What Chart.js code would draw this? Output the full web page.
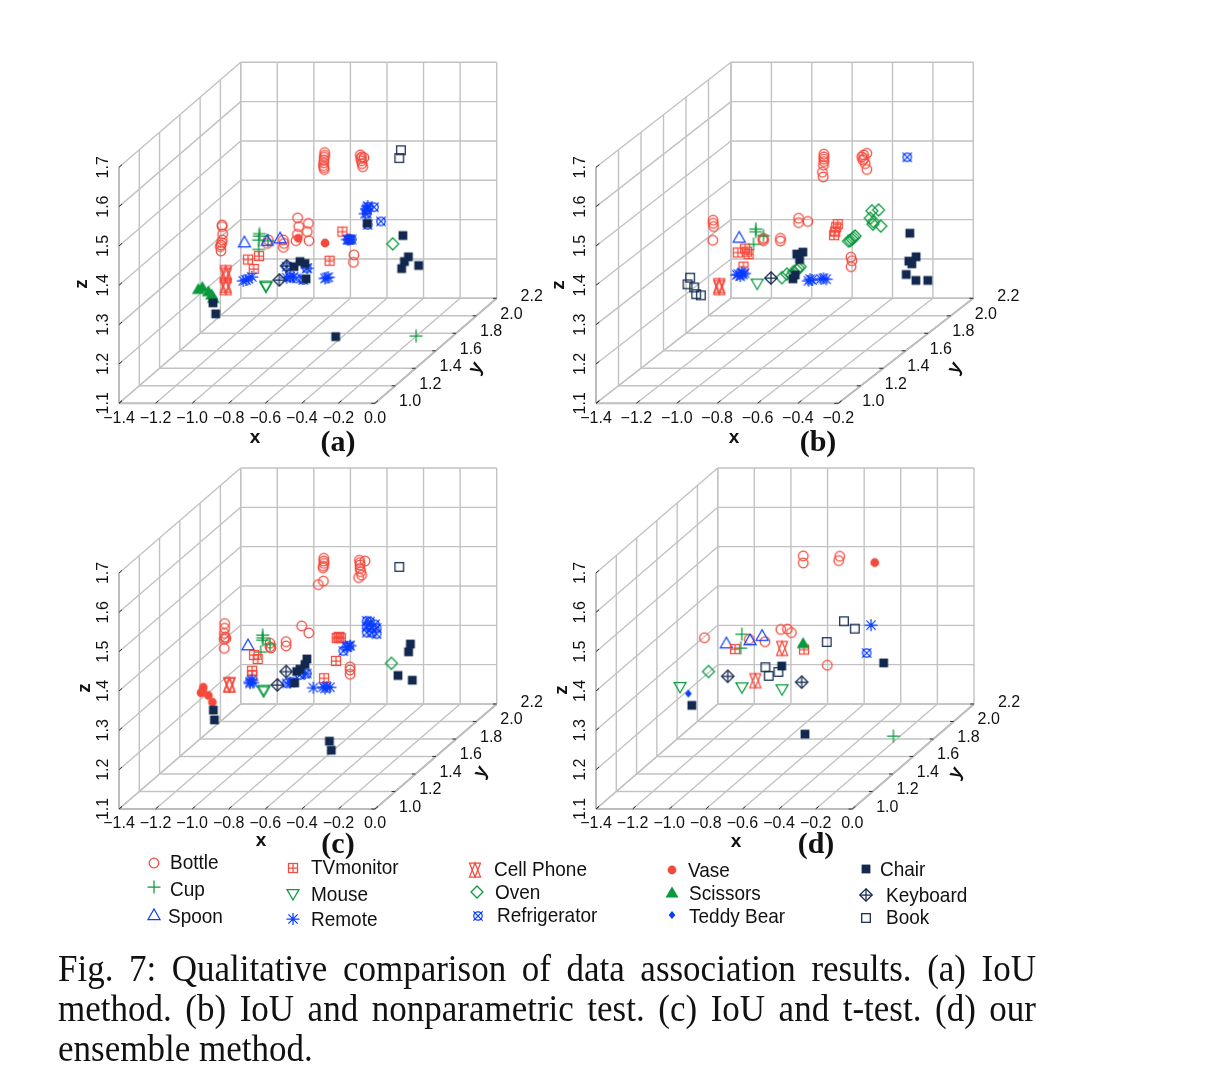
<!DOCTYPE html>
<html>
<head>
<meta charset="utf-8">
<title>Fig. 7</title>
<script src="https://cdn.jsdelivr.net/npm/chart.js@4/dist/chart.umd.min.js"></script>
<style>
  html, body { margin: 0; padding: 0; background: #fff; }
  body { position: relative; width: 1205px; height: 1070px; overflow: hidden; }
  canvas.panel { position: absolute; filter: blur(0.35px); }
  .letter { position: absolute; font: bold 30px "Liberation Serif", serif; color: #111; transform: translate(-50%, -50%); }
  .key { position: absolute; font: 19px "Liberation Sans", sans-serif; color: #111; transform: translateY(-50%) scaleY(1.1); white-space: nowrap; filter: blur(0.3px); }
  .keyMark { position: absolute; transform: translate(-50%, -50%); filter: blur(0.35px); }
  .cap { position: absolute; left: 58px; width: 978px; font: 35px/40px "Liberation Serif", serif; color: #111; text-align: justify; text-align-last: justify; white-space: nowrap; transform: scaleY(1.08); filter: blur(0.3px); }
</style>
</head>
<body>
<script>
// every mark is [x, z]; one view cannot give depth, so y is an assumed constant below
const assumedY = 1.6;

const xTicksLong = [-1.4, -1.2, -1.0, -0.8, -0.6, -0.4, -0.2, 0.0];
const xTicksShort = [-1.4, -1.2, -1.0, -0.8, -0.6, -0.4, -0.2];
const yTicks = [1.0, 1.2, 1.4, 1.6, 1.8, 2.0, 2.2];
const zTicks = [1.1, 1.2, 1.3, 1.4, 1.5, 1.6, 1.7];

const classNames = ['Bottle', 'Cup', 'Spoon', 'TVmonitor', 'Mouse', 'Remote', 'Cell Phone', 'Oven', 'Refrigerator', 'Vase', 'Scissors', 'Teddy Bear', 'Chair', 'Keyboard', 'Book'];

// (a) IoU
const bottleA = [[-.608,1.604],[-.608,1.597],[-.610,1.592],[-.612,1.585],[-.613,1.578],[-.615,1.571],[-.612,1.566],[-.610,1.561],[-.413,1.598],[-.406,1.593],[-.411,1.589],[-.393,1.591],[-.407,1.583],[-.404,1.576],[-.400,1.568],[-1.169,1.420],[-1.169,1.416],[-1.166,1.397],[-1.168,1.382],[-1.171,1.375],[-1.175,1.369],[-1.179,1.365],[-1.175,1.354],[-.756,1.438],[-.750,1.416],[-.697,1.424],[-.703,1.403],[-.757,1.396],[-.694,1.380],[-.765,1.380],[-.834,1.382],[-.830,1.373],[-.834,1.363],[-.916,1.382],[-.922,1.373],[-.448,1.344],[-.451,1.325],[-.473,1.383]];
const cupA = [[-.965,1.398],[-.965,1.392],[-.969,1.382],[-.969,1.358],[-.918,1.380],[-.108,1.138]];
const spoonA = [[-1.047,1.376],[-.852,1.386],[-.922,1.380]];
const tvA = [[-1.027,1.332],[-.967,1.341],[-.996,1.308],[-.511,1.403],[-.581,1.329]];
const mouseA = [[-.929,1.266],[-.929,1.263]];
const remoteA = [[-1.053,1.278],[-1.025,1.283],[-1.007,1.288],[-1.038,1.280],[-.597,1.286],[-.606,1.284],[-.588,1.287],[-.798,1.288],[-.779,1.288],[-.816,1.286],[-.703,1.310],[-.378,1.462],[-.387,1.449],[-.373,1.468],[-.473,1.383],[-.484,1.383]];
const phoneA = [[-1.149,1.299],[-1.149,1.292],[-1.149,1.267],[-1.149,1.261]];
const ovenA = [[-.236,1.372]];
const fridgeA = [[-.369,1.466],[-.338,1.465],[-.378,1.449],[-.373,1.420],[-.300,1.429],[-.469,1.383],[-.479,1.382],[-.460,1.383],[-.816,1.314],[-.706,1.310],[-.798,1.287],[-.725,1.280],[-.761,1.284],[-.378,1.458]];
const vaseA = [[-.752,1.386],[-.606,1.374]];
const scissorsA = [[-1.277,1.261],[-1.299,1.256],[-1.244,1.250],[-1.217,1.233],[-1.226,1.242]];
const chairA = [[-1.219,1.222],[-1.204,1.194],[-.548,1.136],[-.180,1.393],[-.150,1.339],[-.172,1.327],[-.187,1.309],[-.094,1.317],[-.375,1.424],[-.743,1.327],[-.716,1.322],[-.776,1.314],[-.710,1.283]];
const keyboardA = [[-.816,1.316],[-.856,1.280]];
const bookA = [[-.191,1.610],[-.200,1.590]];

// (b) IoU and nonparametric test
const bottleB = [[-.606,1.600],[-.606,1.593],[-.606,1.587],[-.606,1.581],[-.608,1.572],[-.613,1.554],[-.609,1.542],[-.393,1.602],[-.409,1.598],[-.418,1.593],[-.406,1.589],[-.413,1.585],[-.401,1.576],[-.393,1.561],[-1.154,1.432],[-1.154,1.424],[-1.152,1.416],[-1.156,1.381],[-.731,1.437],[-.731,1.426],[-.685,1.429],[-.821,1.386],[-.821,1.379],[-.905,1.386],[-.905,1.380],[-.908,1.383],[-.472,1.338],[-.467,1.329],[-.471,1.314]];
const cupB = [[-.943,1.410],[-.943,1.403],[-.905,1.393],[-.954,1.371]];
const spoonB = [[-1.025,1.388]];
const tvB = [[-1.032,1.350],[-.996,1.360],[-.979,1.346],[-1.004,1.314],[-.987,1.352],[-.537,1.422],[-.545,1.414],[-.550,1.403],[-.555,1.394]];
const mouseB = [[-.936,1.271]];
const remoteB = [[-1.029,1.295],[-1.012,1.299],[-1.020,1.290],[-.999,1.297],[-1.037,1.293],[-1.007,1.294],[-.682,1.278],[-.665,1.280],[-.674,1.282],[-.621,1.283],[-.608,1.284],[-.594,1.282]];
const phoneB = [[-1.124,1.266],[-1.124,1.261]];
const ovenB = [[-.335,1.458],[-.368,1.456],[-.376,1.437],[-.360,1.428],[-.324,1.417],[-.363,1.422],[-.451,1.392],[-.459,1.388],[-.467,1.384],[-.475,1.380],[-.484,1.379],[-.814,1.286],[-.789,1.295],[-.764,1.293],[-.740,1.305],[-.723,1.314],[-.756,1.301],[-.731,1.310]];
const fridgeB = [[-.193,1.592]];
const chairB = [[-.180,1.399],[-.149,1.339],[-.185,1.328],[-.170,1.321],[-.198,1.294],[-.150,1.279],[-.091,1.279],[-.740,1.346],[-.710,1.351],[-.726,1.332],[-.759,1.283],[-.748,1.293]];
const keyboardB = [[-.868,1.285]];
const bookB = [[-1.268,1.286],[-1.281,1.269],[-1.248,1.261],[-1.238,1.244],[-1.215,1.241]];

// (c) IoU and t-test
const bottleC = [[-.613,1.604],[-.613,1.597],[-.611,1.591],[-.615,1.584],[-.617,1.580],[-.615,1.546],[-.643,1.537],[-.418,1.599],[-.415,1.593],[-.387,1.597],[-.415,1.587],[-.415,1.578],[-.411,1.570],[-.406,1.561],[-.422,1.555],[-1.155,1.438],[-1.155,1.426],[-1.157,1.413],[-1.148,1.400],[-1.159,1.398],[-1.157,1.375],[-1.153,1.404],[-.734,1.432],[-.695,1.414],[-.819,1.392],[-.819,1.381],[-.907,1.388],[-.907,1.379],[-.902,1.376],[-.469,1.328],[-.469,1.320],[-.469,1.309]];
const cupC = [[-.947,1.409],[-.947,1.402],[-.947,1.396],[-.958,1.366],[-.907,1.385]];
const spoonC = [[-1.027,1.383]];
const tvC = [[-.994,1.358],[-.974,1.348],[-1.005,1.318],[-1.004,1.307],[-.533,1.403],[-.528,1.404],[-.542,1.401],[-.520,1.401],[-.546,1.343],[-.611,1.299]];
const mouseC = [[-.942,1.266],[-.942,1.270]];
const remoteC = [[-1.016,1.290],[-1.016,1.286],[-1.007,1.294],[-1.002,1.288],[-.670,1.275],[-.615,1.277],[-.597,1.277],[-.579,1.276],[-.606,1.273],[-.469,1.382],[-.484,1.378],[-.798,1.288],[-.716,1.311]];
const phoneC = [[-1.129,1.282],[-1.129,1.283]];
const ovenC = [[-.243,1.337]];
const fridgeC = [[-.378,1.445],[-.360,1.443],[-.333,1.436],[-.378,1.430],[-.351,1.426],[-.324,1.427],[-.378,1.415],[-.351,1.415],[-.324,1.411],[-.369,1.434],[-.473,1.382],[-.488,1.379],[-.506,1.368],[-.816,1.286],[-.788,1.290],[-.743,1.307],[-.706,1.311]];
const vaseC = [[-1.272,1.276],[-1.284,1.262],[-1.244,1.255],[-1.222,1.238],[-1.275,1.266]];
const chairC = [[-1.217,1.218],[-1.211,1.193],[-.582,1.139],[-.572,1.116],[-.139,1.386],[-.149,1.366],[-.207,1.306],[-.129,1.294],[-.705,1.348],[-.716,1.334],[-.743,1.322],[-.761,1.316],[-.772,1.287]];
const keyboardC = [[-.819,1.316],[-.867,1.282]];
const bookC = [[-.200,1.582]];

// (d) our ensemble method
const bottleD = [[-.600,1.610],[-.600,1.592],[-.401,1.609],[-.407,1.598],[-1.140,1.402],[-.723,1.423],[-.687,1.424],[-.665,1.415],[-.809,1.392],[-.895,1.398],[-.469,1.332]];
const cupD = [[-.936,1.411],[-.942,1.376],[-.108,1.152]];
const spoonD = [[-1.020,1.388],[-.891,1.396],[-.825,1.407]];
const tvD = [[-.973,1.373],[-.596,1.372]];
const mouseD = [[-1.273,1.277],[-.935,1.276],[-.716,1.271]];
const remoteD = [[-.230,1.434]];
const phoneD = [[-.716,1.375],[-.862,1.293]];
const ovenD = [[-1.118,1.316]];
const fridgeD = [[-.254,1.363]];
const vaseD = [[-.210,1.593]];
const scissorsD = [[-.601,1.387]];
const teddyD = [[-1.228,1.260]];
const chairD = [[-1.209,1.230],[-.718,1.330],[-.161,1.338],[-.591,1.157]];
const keyboardD = [[-1.013,1.304],[-.609,1.289]];
const bookD = [[-.378,1.444],[-.319,1.425],[-.472,1.391],[-.807,1.327],[-.789,1.305],[-.736,1.315]];

const none = [];
const seriesA = [bottleA, cupA, spoonA, tvA, mouseA, remoteA, phoneA, ovenA, fridgeA, vaseA, scissorsA, none, chairA, keyboardA, bookA];
const seriesB = [bottleB, cupB, spoonB, tvB, mouseB, remoteB, phoneB, ovenB, fridgeB, none, none, none, chairB, keyboardB, bookB];
const seriesC = [bottleC, cupC, spoonC, tvC, mouseC, remoteC, phoneC, ovenC, fridgeC, vaseC, none, none, chairC, keyboardC, bookC];
const seriesD = [bottleD, cupD, spoonD, tvD, mouseD, remoteD, phoneD, ovenD, fridgeD, vaseD, scissorsD, teddyD, chairD, keyboardD, bookD];

const RED = '#f5493c', GREEN = '#0a9a3e', BLUE = '#0a3cff', NAVY = '#12284f';
const GRID = '#c2c2c2', EDGE = '#a8a8a8';
const FONT = '"Liberation Sans", sans-serif';

// marker sprites, Chart.js draws a canvas pointStyle as is
function sprite(draw) {
    const c = document.createElement('canvas');
    c.width = c.height = 20;
    const g = c.getContext('2d');
    g.translate(10, 10);
    g.lineWidth = 1.25;
    draw(g);
    return c;
}
const poly = (g, pts) => {
    g.beginPath();
    pts.forEach((p, i) => i ? g.lineTo(p[0], p[1]) : g.moveTo(p[0], p[1]));
    g.closePath();
};
const seg = (g, list) => {
    g.beginPath();
    list.forEach(s => { g.moveTo(s[0], s[1]); g.lineTo(s[2], s[3]); });
    g.stroke();
};
const ring = (g, r) => { g.beginPath(); g.arc(0, 0, r, 0, Math.PI * 2); };

const markers = [
    sprite(g => { g.strokeStyle = RED; ring(g, 4.8); g.stroke(); }),
    sprite(g => { g.strokeStyle = GREEN; seg(g, [[-6.5, 0, 6.5, 0], [0, -6.5, 0, 6.5]]); }),
    sprite(g => { g.strokeStyle = BLUE; poly(g, [[0, -6], [6, 4.5], [-6, 4.5]]); g.stroke(); }),
    sprite(g => { g.strokeStyle = RED; g.strokeRect(-4.5, -4.5, 9, 9); seg(g, [[-4.5, 0, 4.5, 0], [0, -4.5, 0, 4.5]]); }),
    sprite(g => { g.strokeStyle = GREEN; poly(g, [[0, 6], [6, -4.5], [-6, -4.5]]); g.stroke(); }),
    sprite(g => { g.strokeStyle = BLUE; seg(g, [[-6.5, 0, 6.5, 0], [0, -6, 0, 6], [-4.6, -4.6, 4.6, 4.6], [-4.6, 4.6, 4.6, -4.6]]); }),
    sprite(g => { g.strokeStyle = RED; poly(g, [[0, -7], [5.5, 7], [-5.5, 7]]); g.stroke(); poly(g, [[0, 7], [5.5, -7], [-5.5, -7]]); g.stroke(); }),
    sprite(g => { g.strokeStyle = GREEN; poly(g, [[0, -6], [6, 0], [0, 6], [-6, 0]]); g.stroke(); }),
    sprite(g => { g.strokeStyle = BLUE; ring(g, 4.2); g.stroke(); seg(g, [[-4.6, -4.6, 4.6, 4.6], [-4.6, 4.6, 4.6, -4.6]]); }),
    sprite(g => { g.fillStyle = RED; ring(g, 4.4); g.fill(); }),
    sprite(g => { g.fillStyle = GREEN; poly(g, [[0, -6.5], [6.5, 4.5], [-6.5, 4.5]]); g.fill(); }),
    sprite(g => { g.fillStyle = BLUE; poly(g, [[0, -4], [3.4, 0], [0, 4], [-3.4, 0]]); g.fill(); }),
    sprite(g => { g.fillStyle = NAVY; g.fillRect(-4.4, -4.4, 8.8, 8.8); }),
    sprite(g => { g.strokeStyle = NAVY; poly(g, [[0, -6.2], [6.2, 0], [0, 6.2], [-6.2, 0]]); g.stroke(); seg(g, [[-6.2, 0, 6.2, 0], [0, -6.2, 0, 6.2]]); }),
    sprite(g => { g.strokeStyle = NAVY; g.strokeRect(-4.3, -4.3, 8.6, 8.6); })
];

const panels = [
    { series: seriesA, xTicks: xTicksLong, ox: 119, oy: 403.3, xw: 256, yx: 121.7, left: 60, top: 40, letter: '(a)', letterAt: [338, 441], xAt: [255, 438], yAt: [476, 368], zAt: [82, 284] },
    { series: seriesB, xTicks: xTicksShort, ox: 596, oy: 403.3, xw: 242.3, yx: 135, left: 540, top: 40, letter: '(b)', letterAt: [818, 441], xAt: [734, 438], yAt: [955, 368], zAt: [559, 285] },
    { series: seriesC, xTicks: xTicksLong, ox: 119, oy: 809, xw: 256, yx: 121.7, left: 60, top: 450, letter: '(c)', letterAt: [338, 843], xAt: [261, 841], yAt: [481, 772], zAt: [85, 688] },
    { series: seriesD, xTicks: xTicksLong, ox: 596, oy: 809, xw: 256.3, yx: 121.7, left: 540, top: 450, letter: '(d)', letterAt: [816, 843], xAt: [736, 842], yAt: [956, 773], zAt: [562, 690] }
];
const PANEL_W = 490, PANEL_H = 420;
const Y_RISE = 105, Z_RISE = 236;

// oblique view of the box, result is in page pixels
function projector(p) {
    const xMin = p.xTicks[0], xMax = p.xTicks[p.xTicks.length - 1];
    return (x, y, z) => ({
        x: p.ox + (x - xMin) / (xMax - xMin) * p.xw + (y - 1) / 1.2 * p.yx,
        y: p.oy - (y - 1) / 1.2 * Y_RISE - (z - 1.1) / 0.6 * Z_RISE
    });
}

function line(a, b, color, width) {
    return { type: 'line', data: [a, b], borderColor: color, borderWidth: width, pointRadius: 0, order: 100, fill: false, showLine: true };
}

function boxLines(p) {
    const at = projector(p);
    const xMin = p.xTicks[0], xMax = p.xTicks[p.xTicks.length - 1];
    const yMin = yTicks[0], yMax = yTicks[yTicks.length - 1];
    const zMin = zTicks[0], zMax = zTicks[zTicks.length - 1];
    const out = [];
    p.xTicks.forEach(x => {
        out.push(line(at(x, yMin, zMin), at(x, yMax, zMin), GRID, 1.4));
        out.push(line(at(x, yMax, zMin), at(x, yMax, zMax), GRID, 1.4));
    });
    yTicks.forEach(y => {
        out.push(line(at(xMin, y, zMin), at(xMax, y, zMin), GRID, 1.4));
        out.push(line(at(xMin, y, zMin), at(xMin, y, zMax), GRID, 1.4));
    });
    zTicks.forEach(z => {
        out.push(line(at(xMin, yMin, z), at(xMin, yMax, z), GRID, 1.4));
        out.push(line(at(xMin, yMax, z), at(xMax, yMax, z), GRID, 1.4));
    });
    out.push(line(at(xMin, yMin, zMin), at(xMax, yMin, zMin), EDGE, 1.8));
    out.push(line(at(xMax, yMin, zMin), at(xMax, yMax, zMin), EDGE, 1.8));
    out.push(line(at(xMin, yMin, zMin), at(xMin, yMin, zMax), EDGE, 1.8));
    return out;
}

// tick marks and oblique axis text have no place in the stock scales
const axisText = {
    id: 'axisText',
    afterDraw(chart, args, opts) {
        const p = opts.panel, at = projector(p), ctx = chart.ctx;
        const sx = chart.scales.x, sy = chart.scales.y;
        const px = pt => [sx.getPixelForValue(pt.x), sy.getPixelForValue(pt.y)];
        const xMin = p.xTicks[0], xMax = p.xTicks[p.xTicks.length - 1];
        const tick = (a, b) => {
            const s = px(a), e = px(b);
            ctx.beginPath(); ctx.moveTo(s[0], s[1]); ctx.lineTo(e[0], e[1]); ctx.stroke();
        };
        const text = (str, pt, rot, font) => {
            const c = px(pt);
            ctx.save();
            ctx.translate(c[0], c[1]);
            ctx.rotate(rot);
            ctx.font = font;
            ctx.fillText(str, 0, 0);
            ctx.restore();
        };
        const num = v => (v < 0 ? '\u2212' : '') + Math.abs(v).toFixed(1);
        ctx.save();
        ctx.strokeStyle = '#333';
        ctx.lineWidth = 1;
        ctx.fillStyle = '#111';
        ctx.textAlign = 'center';
        ctx.textBaseline = 'middle';
        const tickFont = '16px ' + FONT, nameFont = 'bold 19px ' + FONT;
        p.xTicks.forEach(x => {
            tick(at(x, 1, 1.1), at(x, 1.03, 1.1));
            const o = at(x, 1, 1.1);
            text(num(x), { x: o.x, y: o.y + 15 }, 0, tickFont);
        });
        yTicks.forEach(y => {
            const o = at(xMax, y, 1.1);
            tick(o, at(xMax - 0.02, y, 1.1));
            text(num(y), { x: o.x + 35, y: o.y - 1.5 }, 0, tickFont);
        });
        zTicks.forEach(z => {
            const o = at(xMin, 1, z);
            tick(o, at(xMin, 1.03, z));
            text(num(z), { x: o.x - 15, y: o.y }, -Math.PI / 2, tickFont);
        });
        text('x', { x: p.xAt[0], y: p.xAt[1] }, 0, nameFont);
        text('y', { x: p.yAt[0], y: p.yAt[1] }, -1.05, nameFont);
        text('z', { x: p.zAt[0], y: p.zAt[1] }, -Math.PI / 2, nameFont);
        ctx.restore();
    }
};

panels.forEach(p => {
    const canvas = document.createElement('canvas');
    canvas.className = 'panel';
    canvas.width = PANEL_W;
    canvas.height = PANEL_H;
    canvas.style.left = p.left + 'px';
    canvas.style.top = p.top + 'px';
    document.body.appendChild(canvas);

    const at = projector(p);
    const datasets = boxLines(p);
    p.series.forEach((values, i) => {
        datasets.push({
            label: classNames[i],
            data: values.map(v => at(v[0], assumedY, v[1])),
            pointStyle: markers[i],
            pointRadius: 6,
            showLine: false,
            order: 20 - i
        });
    });

    new Chart(canvas, {
        type: 'scatter',
        data: { datasets },
        options: {
            responsive: false,
            animation: false,
            devicePixelRatio: 1,
            layout: { padding: 0, autoPadding: false },
            scales: {
                x: { type: 'linear', display: false, min: p.left, max: p.left + PANEL_W },
                y: { type: 'linear', display: false, reverse: true, min: p.top, max: p.top + PANEL_H }
            },
            plugins: { legend: { display: false }, tooltip: { enabled: false }, axisText: { panel: p } }
        },
        plugins: [axisText]
    });

    const tag = document.createElement('div');
    tag.className = 'letter';
    tag.textContent = p.letter;
    tag.style.left = p.letterAt[0] + 'px';
    tag.style.top = p.letterAt[1] + 'px';
    document.body.appendChild(tag);
});

// legend sits in uneven rows in the paper, so it is placed by hand
const keySpots = [
    [154, 863, 170, 862], [154, 887, 170, 889], [154, 915, 168, 916],
    [293, 868, 311, 867], [293, 894, 311, 894], [293, 919, 311, 919],
    [475, 870, 494, 869], [477, 892, 495, 892], [478, 916, 497, 915],
    [672, 870, 688, 870], [672, 893, 689, 893], [672, 915, 689, 916],
    [866, 869, 880, 869], [866, 895, 886, 895], [866, 918, 886, 917]
];
classNames.forEach((name, i) => {
    const s = keySpots[i];
    const img = document.createElement('img');
    img.className = 'keyMark';
    img.src = markers[i].toDataURL();
    img.style.left = s[0] + 'px';
    img.style.top = s[1] + 'px';
    document.body.appendChild(img);
    const label = document.createElement('div');
    label.className = 'key';
    label.textContent = name;
    label.style.left = s[2] + 'px';
    label.style.top = s[3] + 'px';
    document.body.appendChild(label);
});

const captionLines = [
    'Fig. 7: Qualitative comparison of data association results. (a) IoU',
    'method. (b) IoU and nonparametric test. (c) IoU and t-test. (d) our',
    'ensemble method.'
];
captionLines.forEach((txt, i) => {
    const d = document.createElement('div');
    d.className = 'cap';
    d.textContent = txt;
    d.style.top = (949 + i * 40) + 'px';
    if (i === 2) d.style.textAlignLast = 'left';
    document.body.appendChild(d);
});
</script>
</body>
</html>
